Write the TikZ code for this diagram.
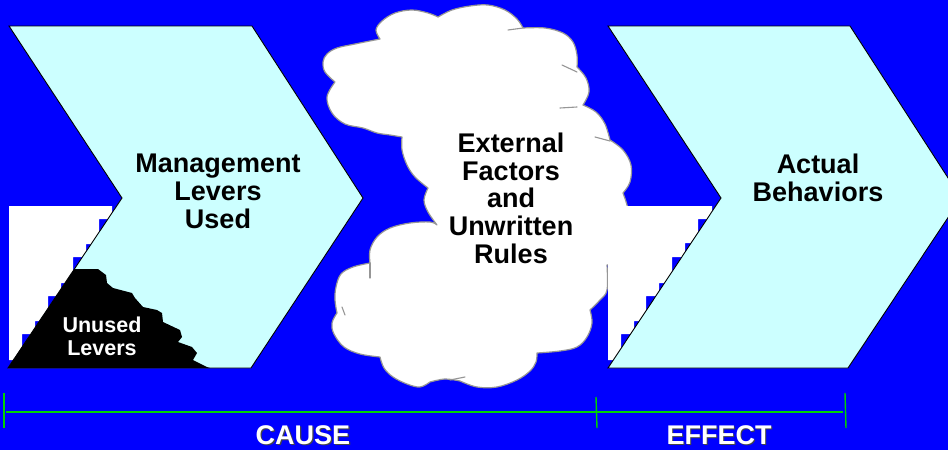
\documentclass[tikz,border=0pt]{standalone}
\usepackage{fontspec}
\setmainfont{Liberation Sans}
\definecolor{bgblue}{RGB}{0,0,255}
\definecolor{chev}{RGB}{204,255,255}
\definecolor{cloudline}{RGB}{150,150,150}
\definecolor{axisgreen}{RGB}{0,210,0}
\definecolor{shadowgray}{RGB}{70,70,70}
\begin{document}
\begin{tikzpicture}[x=1pt,y=-1pt,
  chevron/.style={fill=chev,draw=black,line width=0.9pt,line join=miter},
  cloudshape/.style={fill=white,draw=cloudline,line width=1.2pt,line join=round},
  cloudstroke/.style={draw=cloudline,line width=1.1pt,line cap=round},
  bigtext/.style={font=\fontsize{27}{27.6}\selectfont\bfseries,align=center,inner sep=0pt,text=black},
  smalltext/.style={font=\fontsize{21.5}{23}\selectfont\bfseries,align=center,inner sep=0pt,text=white},
  axislabel/.style={font=\fontsize{27}{28}\selectfont\bfseries,inner sep=0pt,anchor=base},
  axisline/.style={draw=axisgreen,line width=1.4pt}]
\useasboundingbox (0,0) rectangle (948,450);
\clip (0,0) rectangle (948,450);
\fill[bgblue] (0,0) rectangle (948,450);

% cloud
\path[cloudshape]
  plot[smooth,tension=0.6] coordinates {(335,82)(325,72)(323,62)(327,54)(337,48)(355,44)(380,39)}
  -- plot[smooth,tension=0.6] coordinates {(380,39)(376,30)(382,21)(395,13)(412,10)(428,13)(438,17)}
  -- plot[smooth,tension=0.6] coordinates {(438,17)(452,10)(470,6)(488,5)(505,10)(517,19)(523,28)}
  -- plot[smooth,tension=0.6] coordinates {(523,28)(545,28)(563,33)(573,42)(577,55)(577,67)}
  -- plot[smooth,tension=0.6] coordinates {(577,67)(586,78)(589,92)(583,105)}
  -- plot[smooth,tension=0.6] coordinates {(583,105)(596,112)(605,124)(610,140)}
  -- plot[smooth,tension=0.6] coordinates {(610,140)(623,150)(631,165)(630,182)(623,193)}
  -- plot[smooth,tension=0.6] coordinates {(623,193)(627,205)(630,220)(626,245)(612,262)(607,265)}
  -- plot[smooth,tension=0.6] coordinates {(607,265)(607,290)(600,300)(590,310)}
  -- plot[smooth,tension=0.6] coordinates {(590,310)(592,323)(587,337)(577,347)(560,351)(537,353)}
  -- plot[smooth,tension=0.6] coordinates {(537,353)(536,362)(530,371)(517,380)(497,387)(477,387)(460,381)}
  -- plot[smooth,tension=0.6] coordinates {(460,381)(445,379)(430,382)}
  -- plot[smooth,tension=0.6] coordinates {(430,382)(420,387)(407,384)(393,377)(384,368)(380,357)}
  -- plot[smooth,tension=0.6] coordinates {(380,357)(360,354)(344,347)(334,334)(332,323)(337,313)}
  -- plot[smooth,tension=0.6] coordinates {(337,313)(335,300)(336,287)(341,274)(353,267)(370,263)}
  -- plot[smooth,tension=0.6] coordinates {(370,263)(370,250)(377,237)(390,228)(410,223)(430,222)(437,225)}
  -- plot[smooth,tension=0.6] coordinates {(437,225)(428,212)(424,200)(428,188)}
  -- plot[smooth,tension=0.6] coordinates {(428,188)(415,177)(407,165)(402,150)(402,137)}
  -- plot[smooth,tension=0.6] coordinates {(402,137)(390,135)(377,133)(363,128)(345,124)(332,113)(327,97)(335,82)}
  -- cycle;
\draw[cloudstroke] (508,30) -- (523,28);
\draw[cloudstroke] (562,65) -- (577,72);
\draw[cloudstroke] (560,108) -- (577,107);
\draw[cloudstroke] (595,137) -- (610,141);
\draw[cloudstroke] (370,263) -- (370,278);
\draw[cloudstroke] (342,307) -- (345,315);
\draw[cloudstroke] (450,380) -- (465,377);

% white staircase patches
\fill[white] (9,206) -- (112,206) -- (112,219) -- (99,219) -- (99,244) -- (86,244) -- (86,257) -- (73,257) -- (73,283) -- (61,283) -- (61,296) -- (48,296) -- (48,321) -- (35,321) -- (35,334) -- (22,334) -- (22,360) -- (9,360) -- cycle;
\fill[white] (608,206) -- (712,206) -- (712,219) -- (698,219) -- (698,243) -- (685,243) -- (685,257) -- (672,257) -- (672,283) -- (659,283) -- (659,296) -- (646,296) -- (646,321) -- (634,321) -- (634,334) -- (621,334) -- (621,360) -- (608,360) -- cycle;

% chevrons
\path[chevron] (9,26) -- (252,26) -- (363,198) -- (251,368) -- (8,368) -- (122,198) -- cycle;
\path[chevron] (608,26) -- (850,26) -- (961,198) -- (848,368) -- (608,368) -- (721,198) -- cycle;

% unused levers region
\fill[black] (8,368) -- (74.4,269) -- (98,269) -- (106,275) -- (107,283) -- (113,288) -- (132,293) -- (135,298) -- (143,307) -- (157,310) -- (162,313) -- (163,322) -- (180,330) -- (182,337) -- (178,342) -- (192,347) -- (197,353) -- (193,360) -- (207,367) -- (210,368) -- cycle;

% texts
\node[bigtext] (mgmt) at (218,191.3) {Management\\Levers\\Used};
\node[bigtext] (ext) at (511,198.3) {External\\Factors\\and\\Unwritten\\Rules};
\node[bigtext] (act) at (818,177.8) {Actual\\Behaviors};
\node[smalltext] (unused) at (102,336.8) {Unused\\Levers};

% axis
\coordinate (axL) at (6,412);
\coordinate (axR) at (843,412);
\coordinate (tLt) at (4,393);
\coordinate (tLb) at (4,428);
\coordinate (tMt) at (596,397);
\coordinate (tMb) at (597,428);
\coordinate (tRt) at (845,393);
\coordinate (tRb) at (846,428);
\draw[axisline] (axL) -- (axR);
\draw[axisline] (tLt) -- (tLb);
\draw[axisline] (tMt) -- (tMb);
\draw[axisline] (tRt) -- (tRb);

\node[axislabel,text=shadowgray] (causeshadow) at (304.2,445.7) {CAUSE};
\node[axislabel,text=white] (cause) at (303,444.5) {CAUSE};
\node[axislabel,text=shadowgray] (effectshadow) at (720.2,445.7) {EFFECT};
\node[axislabel,text=white] (effect) at (719,444.5) {EFFECT};
\end{tikzpicture}
\end{document}
